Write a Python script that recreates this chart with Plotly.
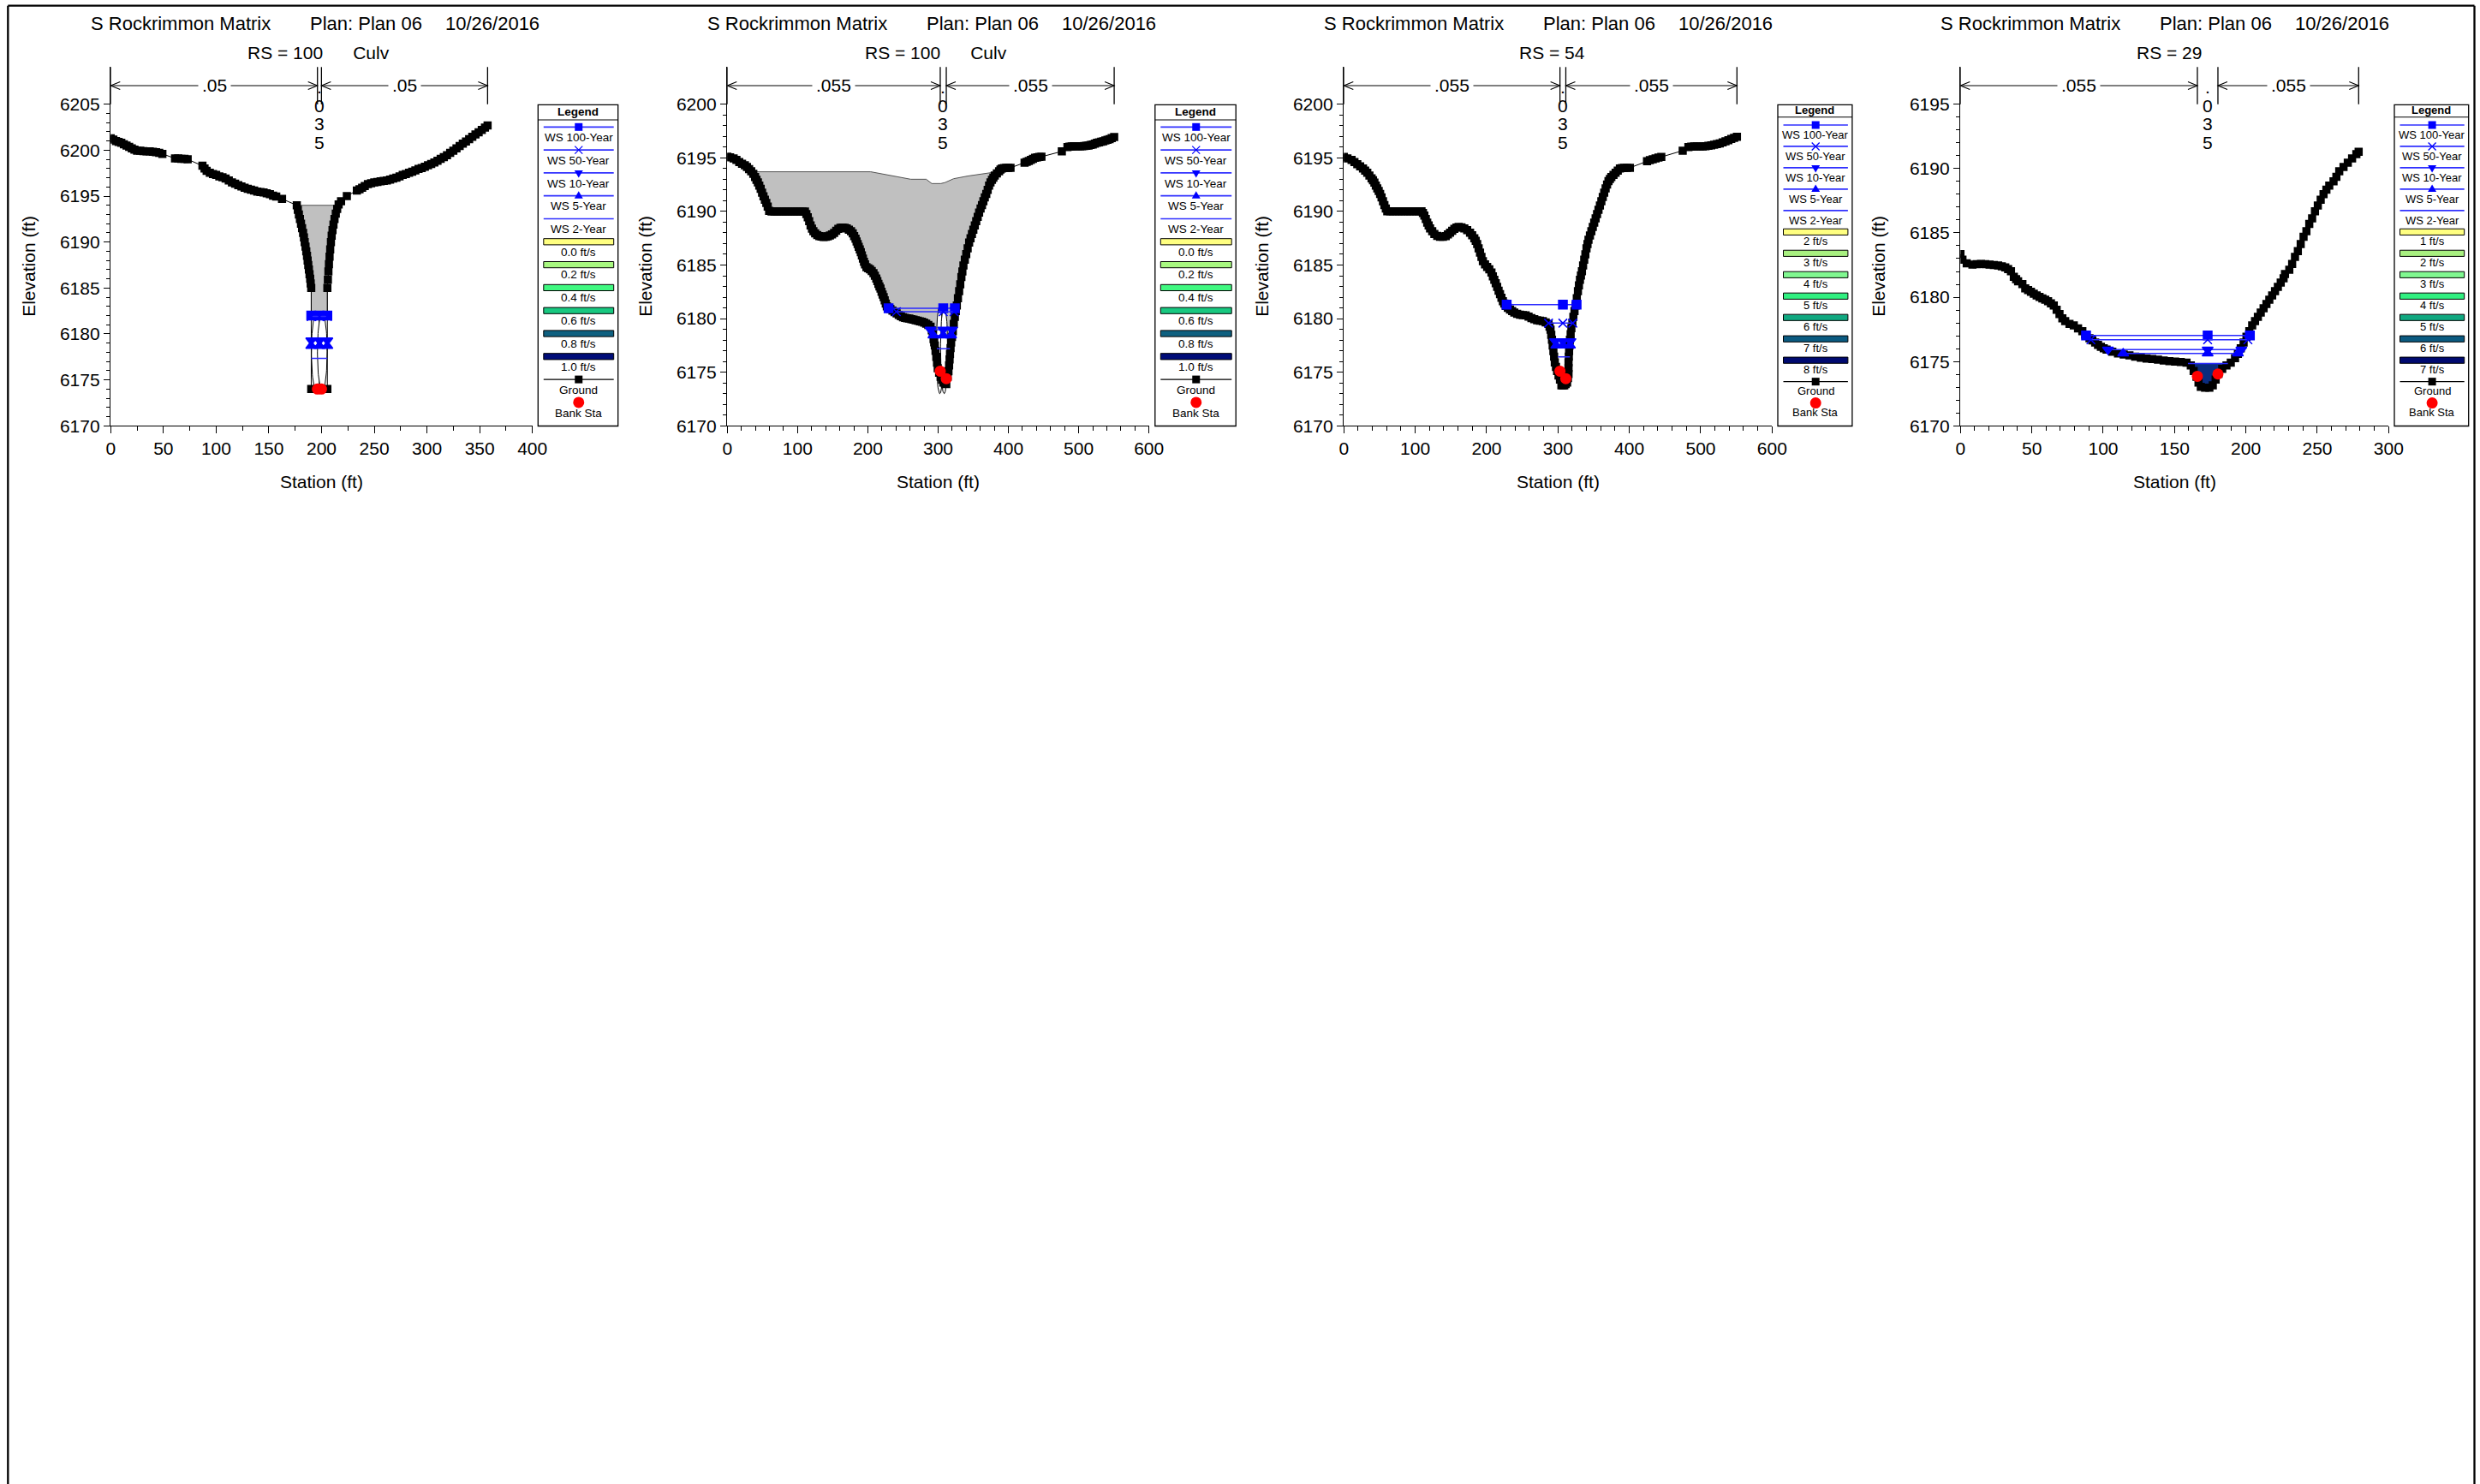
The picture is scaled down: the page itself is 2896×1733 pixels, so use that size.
import numpy as np
import plotly.graph_objects as go

W, H = 2896, 1733
FONT = "Liberation Sans, Arial, Helvetica, sans-serif"

# ======================= DATA =======================
title_main = "S Rockrimmon Matrix"
title_plan = "Plan: Plan 06"
title_date = "10/26/2016"
section_labels = ["RS = 100" + "\u00a0" * 6 + "Culv", "RS = 100" + "\u00a0" * 6 + "Culv", "RS = 54", "RS = 29"]
n_values = [[".05", ".035", ".05"], [".055", ".035", ".055"], [".055", ".035", ".055"], [".055", ".035", ".055"]]

ws_names = ["WS 100-Year", "WS 50-Year", "WS 10-Year", "WS 5-Year", "WS 2-Year"]
vel_labels_p1 = ["0.0 ft/s", "0.2 ft/s", "0.4 ft/s", "0.6 ft/s", "0.8 ft/s", "1.0 ft/s"]
vel_labels_p2 = ["0.0 ft/s", "0.2 ft/s", "0.4 ft/s", "0.6 ft/s", "0.8 ft/s", "1.0 ft/s"]
vel_labels_p3 = ["2 ft/s", "3 ft/s", "4 ft/s", "5 ft/s", "6 ft/s", "7 ft/s", "8 ft/s"]
vel_labels_p4 = ["1 ft/s", "2 ft/s", "3 ft/s", "4 ft/s", "5 ft/s", "6 ft/s", "7 ft/s"]
vel_colors_6 = ["#ffff80", "#a8f880", "#40f880", "#18c880", "#0e6080", "#000c78"]
vel_colors_7 = ["#ffff80", "#a8f080", "#80f890", "#30f080", "#10a880", "#0a5a80", "#000a70"]

# x tick labels per panel
p1_xticks = [0, 50, 100, 150, 200, 250, 300, 350, 400]
p2_xticks = [0, 100, 200, 300, 400, 500, 600]
p3_xticks = [0, 100, 200, 300, 400, 500, 600]
p4_xticks = [0, 50, 100, 150, 200, 250, 300]
# y tick labels per panel
p1_yticks = [6170, 6175, 6180, 6185, 6190, 6195, 6200, 6205]
p2_yticks = [6170, 6175, 6180, 6185, 6190, 6195, 6200]
p3_yticks = [6170, 6175, 6180, 6185, 6190, 6195, 6200]
p4_yticks = [6170, 6175, 6180, 6185, 6190, 6195]

# ---- Ground profiles (station ft, elevation ft) ----
p1_ground = [
    (0, 6201.3), (2.5, 6201.15), (5, 6201.0), (7.5, 6200.9), (10, 6200.8), (12.5, 6200.65), (15, 6200.5),
    (17.5, 6200.35), (20, 6200.2), (22.5, 6200.05), (25, 6199.95), (28, 6199.93), (31, 6199.9), (34, 6199.88),
    (37, 6199.86), (40, 6199.83), (43, 6199.78), (46, 6199.7), (49, 6199.6),
    (61, 6199.1), (64, 6199.1), (67, 6199.05), (70, 6199.05), (73, 6199.0),
    (87, 6198.3), (89, 6198.0), (91, 6197.75), (94, 6197.55), (97, 6197.4), (100, 6197.3), (103, 6197.15),
    (106, 6197.05), (109, 6196.9), (112, 6196.7), (115, 6196.5), (118, 6196.35), (121, 6196.2), (124, 6196.05),
    (127, 6195.9), (130, 6195.8), (133, 6195.7), (136, 6195.6), (139, 6195.5), (142, 6195.45), (145, 6195.4),
    (148, 6195.3), (151, 6195.2), (154, 6195.05), (157, 6194.95),
    (162.5, 6194.7),
    (176.5, 6194.0), (177.5, 6193.5), (178.5, 6193.0), (179.5, 6192.5), (180.5, 6192.0), (181.5, 6191.5),
    (182.5, 6191.0), (183.3, 6190.5), (184, 6190.0), (184.8, 6189.5), (185.5, 6189.0), (186.2, 6188.5),
    (186.8, 6188.0), (187.4, 6187.5), (188, 6187.0), (188.6, 6186.5), (189.2, 6186.0), (189.7, 6185.5),
    (190.2, 6185.0),
    (190.2, 6174.0), (196.1, 6174.0), (199.9, 6174.0), (205.5, 6174.0),
    (205.5, 6185.0), (206.0, 6185.9), (206.5, 6186.8), (207.0, 6187.6), (207.6, 6188.4), (208.2, 6189.2),
    (208.9, 6190.0), (209.6, 6190.7), (210.4, 6191.3), (211.3, 6191.9), (212.3, 6192.5), (213.5, 6193.1),
    (214.8, 6193.6), (216.2, 6194.1), (218.5, 6194.45),
    (224, 6195.0),
    (233.5, 6195.6), (236, 6195.75), (238.5, 6195.9), (241, 6196.1), (244, 6196.3), (247, 6196.4), (250, 6196.5),
    (253, 6196.55), (256, 6196.6), (259, 6196.65), (262, 6196.7), (265, 6196.8), (268, 6196.9), (271, 6197.0),
    (274, 6197.15), (277, 6197.3), (280, 6197.4), (283, 6197.55), (286, 6197.65), (289, 6197.8), (292, 6197.95),
    (295, 6198.05), (298, 6198.2), (301, 6198.35), (304, 6198.5), (307, 6198.65), (310, 6198.85), (313, 6199.05),
    (316, 6199.25), (319, 6199.45), (322, 6199.7), (325, 6199.95), (328, 6200.2), (331, 6200.45), (334, 6200.7),
    (337, 6200.95), (340, 6201.2), (343, 6201.45), (346, 6201.7), (349, 6201.95), (352, 6202.2), (355, 6202.45),
    (357.5, 6202.7),
]

p2_ground = [
    (0, 6195.1), (4, 6195.05), (9, 6194.95), (13, 6194.8), (17, 6194.6), (21, 6194.45), (25, 6194.3), (28, 6194.15),
    (31, 6193.95), (34, 6193.75), (37, 6193.5), (39.5, 6193.2), (41.5, 6192.95), (43.5, 6192.7), (45.5, 6192.4),
    (47.5, 6192.1), (49.5, 6191.75), (51.5, 6191.4), (53.5, 6191.1), (55.5, 6190.8), (57.5, 6190.45), (59.5, 6190.05),
    (63, 6190.0), (67, 6190.0), (71, 6190.0), (75, 6190.0), (79, 6190.0), (83, 6190.0), (87, 6190.0), (91, 6190.0),
    (95, 6190.0), (99, 6190.0), (103, 6190.0), (107, 6190.0), (110.5, 6190.0), (112.5, 6189.75), (114.5, 6189.45),
    (116.5, 6189.1), (118.5, 6188.7), (120.5, 6188.4), (122.5, 6188.15), (125, 6187.95), (128, 6187.8), (131, 6187.7),
    (134, 6187.65), (137, 6187.62), (140, 6187.63), (143, 6187.68), (146, 6187.75), (149, 6187.85), (152, 6188.0),
    (155, 6188.2), (158, 6188.38), (161, 6188.48), (164, 6188.5), (167, 6188.48), (170, 6188.42), (173, 6188.3),
    (176, 6188.15), (178.5, 6187.95), (180.5, 6187.7), (182.5, 6187.45), (184, 6187.2), (185.5, 6186.95),
    (187, 6186.7), (188.5, 6186.45), (190, 6186.2), (191.5, 6185.9), (193, 6185.6), (194.5, 6185.3), (196, 6185.05),
    (198, 6184.8), (200.5, 6184.7), (203, 6184.6), (205.5, 6184.45), (208, 6184.25), (210, 6184.0), (212, 6183.75),
    (213.5, 6183.5), (215, 6183.25), (216.5, 6183.0), (218, 6182.8), (219.5, 6182.5), (221, 6182.25), (222.5, 6182.0),
    (224, 6181.7), (225.5, 6181.4), (227, 6181.15), (229, 6181.0), (232, 6180.9), (235, 6180.75), (238, 6180.6),
    (241, 6180.48), (244, 6180.35), (247, 6180.22), (250, 6180.12), (253, 6180.06), (256, 6180.03), (259, 6180.0),
    (262, 6179.95), (265, 6179.9), (268, 6179.85), (271, 6179.8), (274, 6179.75), (277, 6179.7), (280, 6179.62),
    (283, 6179.52), (286, 6179.4), (289.2, 6179.24), (291, 6178.9), (292.5, 6178.57), (293.5, 6178.1),
    (294.4, 6177.8), (295.3, 6177.5), (296.3, 6177.0), (297.4, 6176.44), (298.4, 6175.9), (299.4, 6175.37),
    (301.4, 6174.95), (303.5, 6174.57), (305.5, 6174.3), (307.5, 6174.04), (309.5, 6173.95), (311.6, 6173.9),
    (313.6, 6174.57), (314.7, 6175.1), (315.6, 6175.64), (316.3, 6176.2), (316.9, 6176.7), (317.7, 6177.25),
    (318.5, 6177.77), (319.7, 6178.3), (320.9, 6178.83), (322.3, 6179.5), (323.8, 6180.16), (325.2, 6180.7),
    (326.6, 6181.23), (328.2, 6181.9), (329.9, 6182.56), (331.5, 6183.2), (333.1, 6183.89), (334.5, 6184.4),
    (336, 6184.96), (338, 6185.5), (340, 6186.02), (342, 6186.55), (344.1, 6187.09), (346.1, 6187.5),
    (348.1, 6187.89), (350.1, 6188.3), (352.2, 6188.69), (354.2, 6189.1), (356.3, 6189.49), (358.3, 6189.9),
    (360.4, 6190.28), (362.4, 6190.6), (364.4, 6190.95), (366.4, 6191.3), (368.5, 6191.62), (370.5, 6192.0),
    (372.5, 6192.41), (374.5, 6192.7), (376.6, 6192.95), (378.6, 6193.15), (380.6, 6193.35), (383.6, 6193.55),
    (386.7, 6193.75), (388.7, 6193.9), (390.8, 6194.01), (393.8, 6194.05), (396.9, 6194.07), (400, 6194.07),
    (403, 6194.07),
    (423, 6194.55), (426, 6194.62), (429, 6194.7), (432, 6194.8), (435, 6194.9), (438, 6195.0), (441, 6195.05),
    (444, 6195.08), (447, 6195.1),
    (476, 6195.6),
    (484, 6196.0), (487, 6196.05), (490, 6196.07), (493, 6196.08), (496, 6196.08), (499, 6196.08), (502, 6196.08),
    (505, 6196.08), (508, 6196.1), (511, 6196.12), (514, 6196.15), (517, 6196.2), (520, 6196.25), (523, 6196.32),
    (526, 6196.4), (529, 6196.45), (532, 6196.5), (535, 6196.55), (538, 6196.62), (541, 6196.68), (544, 6196.75),
    (547, 6196.84), (550.5, 6196.95),
]

p3_ground = [
    (0, 6195.08), (5, 6194.95), (10.8, 6194.81), (14.8, 6194.6), (18.8, 6194.41), (22.8, 6194.2), (26.8, 6194.01),
    (29.8, 6193.8), (32.8, 6193.61), (35.8, 6193.35), (38.8, 6193.08), (40.8, 6192.9), (42.8, 6192.68),
    (44.8, 6192.4), (46.8, 6192.15), (48.8, 6191.9), (50.8, 6191.62), (52.8, 6191.3), (54.8, 6190.95),
    (56.8, 6190.6), (58.8, 6190.28), (60.8, 6190.02), (64.8, 6190.02), (68.8, 6190.02), (72.8, 6190.02),
    (76.8, 6190.02), (80.8, 6190.02), (84.8, 6190.02), (88.8, 6190.02), (92.8, 6190.02), (96.8, 6190.02),
    (100.8, 6190.02), (104.8, 6190.02), (108.8, 6190.02), (110.8, 6189.85), (112.8, 6189.62), (114.8, 6189.3),
    (116.8, 6188.96), (118.8, 6188.7), (120.8, 6188.42), (123.8, 6188.15), (126.8, 6187.89), (130.8, 6187.72),
    (134.8, 6187.63), (138.8, 6187.63), (142.8, 6187.7), (145.8, 6187.85), (148.8, 6188.02), (151.8, 6188.2),
    (154.8, 6188.37), (157.8, 6188.5), (160.8, 6188.56), (164.8, 6188.52), (168.8, 6188.42), (172.8, 6188.25),
    (176.8, 6188.02), (179.8, 6187.78), (182.8, 6187.49), (184.8, 6187.25), (186.8, 6186.96), (188.8, 6186.55),
    (190.8, 6186.16), (192.8, 6185.75), (194.8, 6185.36), (197.8, 6185.05), (200.8, 6184.83), (203.8, 6184.6),
    (206.8, 6184.3), (208.8, 6183.95), (210.8, 6183.63), (212.8, 6183.3), (214.8, 6182.96), (216.8, 6182.6),
    (218.8, 6182.29), (220.8, 6181.95), (222.8, 6181.63), (224.8, 6181.4), (226.8, 6181.18), (229.8, 6181.0),
    (232.8, 6180.84), (235.8, 6180.7), (238.8, 6180.57), (242.8, 6180.45), (246.8, 6180.36), (250.8, 6180.33),
    (254.8, 6180.31), (258.8, 6180.18), (262.8, 6180.04), (266.8, 6179.95), (270.8, 6179.85), (274.8, 6179.8),
    (278.8, 6179.77), (282.8, 6179.65), (286.8, 6179.5), (288.2, 6179.25), (289.6, 6178.97), (290.6, 6178.5),
    (291.6, 6178.04), (292.6, 6177.5), (293.6, 6176.97), (294.6, 6176.45), (295.6, 6175.91), (297.2, 6175.5),
    (298.8, 6175.11), (300.8, 6174.7), (302.8, 6174.31), (304.8, 6173.78), (306.8, 6173.78), (308.8, 6173.78),
    (310.8, 6173.9), (312.8, 6174.04), (314, 6174.45), (314.8, 6174.84), (314.8, 6175.4), (314.8, 6175.91),
    (315.2, 6176.45), (315.6, 6176.97), (316.2, 6177.5), (316.8, 6178.04), (317.8, 6178.55), (318.8, 6179.1),
    (320.2, 6179.6), (321.6, 6180.17), (323.2, 6180.7), (324.8, 6181.23), (326.4, 6181.9), (328, 6182.56),
    (329.4, 6183.1), (330.8, 6183.63), (332.2, 6184.03), (333.6, 6184.43), (335.2, 6184.96), (336.8, 6185.49),
    (338.4, 6186.0), (340, 6186.56), (341.4, 6186.96), (342.8, 6187.36), (344.8, 6187.76), (346.8, 6188.16),
    (348.8, 6188.56), (350.8, 6188.96), (352.8, 6189.35), (354.8, 6189.75), (356.8, 6190.15), (358.8, 6190.55),
    (360.8, 6190.95), (362.8, 6191.35), (364.8, 6191.75), (366.8, 6192.15), (368.8, 6192.5), (370.8, 6192.82),
    (372.8, 6193.02), (374.8, 6193.21), (377.8, 6193.41), (380.8, 6193.61), (383.8, 6193.81), (386.8, 6194.01),
    (389.8, 6194.05), (392.8, 6194.07), (396.8, 6194.07), (400.8, 6194.07),
    (424.8, 6194.68), (428.8, 6194.78), (432.8, 6194.87), (436.8, 6194.95), (440.8, 6195.02), (444.8, 6195.08),
    (474.8, 6195.67),
    (482.8, 6196.01), (486.8, 6196.04), (490.8, 6196.06), (494.8, 6196.06), (498.8, 6196.06), (502.8, 6196.06),
    (506.8, 6196.08), (510.8, 6196.12), (514.8, 6196.17), (518.8, 6196.22), (522.8, 6196.28), (526.8, 6196.35),
    (530.8, 6196.45), (534.8, 6196.55), (538.8, 6196.65), (542.8, 6196.76), (546.8, 6196.86), (550.8, 6196.97),
]

p4_ground = [
    (0, 6183.35), (1.4, 6182.91), (4.4, 6182.64), (8.4, 6182.53), (11.4, 6182.56), (14.4, 6182.58), (17.4, 6182.56),
    (20.4, 6182.53), (23.4, 6182.5), (26.4, 6182.47), (29, 6182.4), (31.4, 6182.31), (33.4, 6182.18), (35.4, 6182.02),
    (37.4, 6181.58), (39, 6181.4), (40.4, 6181.24), (43.4, 6181.02), (45.4, 6180.69), (47.4, 6180.55),
    (49.4, 6180.42), (51.4, 6180.27), (53.4, 6180.13), (55.4, 6180.02), (57.4, 6179.91), (59.4, 6179.8),
    (61.4, 6179.69), (63.4, 6179.52), (65.4, 6179.35), (67.4, 6179.02), (69.4, 6178.69), (71.4, 6178.36),
    (73.4, 6178.14), (76.4, 6177.92), (79.4, 6177.81), (82.4, 6177.58), (85.4, 6177.36), (87.4, 6177.1),
    (90.4, 6176.81), (92.4, 6176.64), (94.4, 6176.47), (96.4, 6176.3), (98.4, 6176.14), (100.4, 6176.03),
    (102.4, 6175.92), (106.4, 6175.76), (110.4, 6175.63), (114.4, 6175.54), (118.4, 6175.48), (122.4, 6175.37),
    (126.4, 6175.3), (130.4, 6175.23), (134.4, 6175.19), (138.4, 6175.14), (142.4, 6175.08), (146.4, 6175.03),
    (150.4, 6174.99), (154.4, 6174.96), (158.4, 6174.92), (161.4, 6174.7), (163.4, 6174.26), (165.4, 6173.81),
    (166.8, 6173.37), (168.4, 6173.04), (171.4, 6172.97), (174.4, 6172.97), (176.8, 6173.15), (178.8, 6173.59),
    (180.8, 6174.04), (183.4, 6174.43), (186.4, 6174.7), (189.4, 6174.92), (192.4, 6175.26), (194.4, 6175.59),
    (196.4, 6176.03), (198.4, 6176.48), (200.4, 6176.92), (202.4, 6177.36), (204.4, 6177.81), (206.4, 6178.14),
    (208.4, 6178.47), (210.4, 6178.81), (212.4, 6179.14), (214.4, 6179.47), (216.4, 6179.8), (218.4, 6180.14),
    (220.4, 6180.47), (222.4, 6180.8), (224.4, 6181.13), (226.4, 6181.47), (227.4, 6181.8), (230.4, 6182.13),
    (232.4, 6182.58), (234.4, 6183.13), (236.4, 6183.58), (238.4, 6184.13), (240.4, 6184.69), (242.4, 6185.13),
    (244.4, 6185.69), (246.4, 6186.13), (248.4, 6186.68), (250.4, 6187.13), (252.4, 6187.57), (254.4, 6188.01),
    (256.4, 6188.35), (258.4, 6188.68), (261.4, 6189.01), (263.4, 6189.35), (265.4, 6189.79), (268.4, 6190.12),
    (271.4, 6190.45), (274.4, 6190.79), (277.4, 6191.12), (279, 6191.3),
]

# ---- Bank stations (station, elevation) ----
p1_banks = [(196.1, 6174.0), (199.9, 6174.0)]
p2_banks = [(303.0, 6175.1), (311.6, 6174.4)]
p3_banks = [(302.8, 6175.1), (311.0, 6174.4)]
p4_banks = [(166.0, 6173.85), (180.4, 6174.03)]

# ---- Water surfaces: (elevation, left station, right station) for 100, 50, 10, 5, 2-year ----
p1_ws = [(6182.0, 190.2, 205.5), (6181.9, 190.2, 205.5), (6179.3, 190.2, 205.5), (6178.7, 190.2, 205.5), (6177.35, 190.2, 205.5)]
p2_ws = [(6180.97, 229.5, 323.8), (6180.65, 240.5, 322.6), (6178.97, 289.2, 319.7), (6178.44, 293.3, 318.5), (6177.19, 298.2, 316.9)]
p3_ws = [(6181.31, 228.1, 326.1), (6179.58, 286.8, 320.8), (6177.9, 296.0, 317.6), (6177.5, 297.6, 316.8), (6176.44, 300.0, 316.8)]
p4_ws = [(6177.03, 88.0, 202.8), (6176.69, 91.4, 201.4), (6175.92, 103.4, 196.8), (6175.63, 114.0, 194.4), (6174.85, 159.4, 187.4)]

# ---- Culvert deck (road) and barrels ----
p1_deck_top = [(176.5, 6194.0), (216.2, 6194.0)]
p1_low_chord = 6182.3
p2_deck_top = [(35.0, 6193.7), (204, 6193.7), (261, 6193.0), (283, 6193.0), (291, 6192.6), (304, 6192.6),
               (310, 6192.7), (322, 6193.05), (342, 6193.3), (384, 6193.7)]
p2_low_chord = 6160.0
p1_barrels = [(190.4, 199.6), (196.1, 205.3)]
p1_barrel_invert, p1_barrel_crown = 6173.8, 6182.3
p2_barrels = [(297.3, 307.5), (303.4, 313.6)]
p2_barrel_invert, p2_barrel_crown = 6173.0, 6181.2

# ======================= LAYOUT GEOMETRY (pixels) =======================
PLOT_TOP, PLOT_BOT, TICK_TOP_PX = 78.3, 497.3, 121.7
panels = [
    dict(x0=129.3, x1=621.7, xmax=400, dtick=50, minor=25, xt=p1_xticks, yt=p1_yticks, ground=p1_ground,
         banks=p1_banks, ws=p1_ws, leg=(628.3, 721.7), vl=vel_labels_p1, vc=vel_colors_6, lfs=13.5),
    dict(x0=849.3, x1=1341.7, xmax=600, dtick=100, minor=20, xt=p2_xticks, yt=p2_yticks, ground=p2_ground,
         banks=p2_banks, ws=p2_ws, leg=(1348.8, 1443.2), vl=vel_labels_p2, vc=vel_colors_6, lfs=13.5),
    dict(x0=1569.3, x1=2069.3, xmax=600, dtick=100, minor=20, xt=p3_xticks, yt=p3_yticks, ground=p3_ground,
         banks=p3_banks, ws=p3_ws, leg=(2076.0, 2162.9), vl=vel_labels_p3, vc=vel_colors_7, lfs=13),
    dict(x0=2289.3, x1=2789.3, xmax=300, dtick=50, minor=10, xt=p4_xticks, yt=p4_yticks, ground=p4_ground,
         banks=p4_banks, ws=p4_ws, leg=(2796.0, 2882.7), vl=vel_labels_p4, vc=vel_colors_7, lfs=13),
]


def PX(x):
    return x / W


def PY(y):
    return 1 - y / H


fig = go.Figure()
shapes, annots = [], []
layout_axes = {}

ws_symbols = ["square", "x-thin-open", "triangle-down", "triangle-up", None]
ws_sizes = [10, 10, 11, 11, 0]


def deck_polygon(gs, ge, top, low):
    tx = [p[0] for p in top]
    ty = [p[1] for p in top]
    l, r = tx[0], tx[-1]
    pts = [(s, max(e, low)) for s, e in zip(gs, ge) if l <= s <= r][::-1]
    return tx + [p[0] for p in pts] + [tx[0]], ty + [p[1] for p in pts] + [ty[0]]


def barrel_outline(left, right, inv, crown):
    t = np.linspace(0, 2 * np.pi, 91)
    cx, cy = (left + right) / 2, (inv + crown) / 2
    return cx + (right - left) / 2 * np.cos(t), cy + (crown - inv) / 2 * np.sin(t)


def text(x, y, s, size=21, xref="paper", yref="paper", xanchor="center", yanchor="middle", angle=0, bg=None, pad=1):
    a = dict(x=x, y=y, xref=xref, yref=yref, text=s, showarrow=False, xanchor=xanchor, yanchor=yanchor,
             font=dict(family=FONT, size=size, color="black"), textangle=angle, borderpad=pad)
    if bg:
        a["bgcolor"] = bg
    annots.append(a)


for i, P in enumerate(panels):
    sfx = "" if i == 0 else str(i + 1)
    xa, ya = "x" + sfx, "y" + sfx
    gs = [p[0] for p in P["ground"]]
    ge = [p[1] for p in P["ground"]]
    ytop_tick = P["yt"][-1]
    ymax = ytop_tick + (ytop_tick - P["yt"][0]) * (TICK_TOP_PX - PLOT_TOP) / (PLOT_BOT - TICK_TOP_PX)

    # axes
    layout_axes["xaxis" + sfx] = dict(
        domain=[PX(P["x0"]), PX(P["x1"])], range=[0, P["xmax"]], anchor=ya, automargin=False,
        tickmode="array", tickvals=P["xt"], ticktext=[str(v) for v in P["xt"]],
        ticks="outside", ticklen=7.5, tickwidth=1, tickcolor="black",
        showline=True, linecolor="black", linewidth=1, showgrid=False, zeroline=False,
        tickfont=dict(family=FONT, size=21, color="black"),
        minor=dict(tickmode="array", tickvals=list(range(0, P["xmax"] + 1, P["minor"])), ticks="outside",
                   ticklen=4.5, tickwidth=1, tickcolor="black", showgrid=False),
        fixedrange=True)
    layout_axes["yaxis" + sfx] = dict(
        domain=[PY(PLOT_BOT), PY(PLOT_TOP)], range=[P["yt"][0], ymax], anchor=xa, automargin=False,
        tickmode="array", tickvals=P["yt"], ticktext=[str(v) for v in P["yt"]],
        ticks="outside", ticklen=7.5, tickwidth=1, tickcolor="black",
        showline=True, linecolor="black", linewidth=1, showgrid=False, zeroline=False,
        tickfont=dict(family=FONT, size=21, color="black"),
        minor=dict(tickmode="array", tickvals=list(range(P["yt"][0], ytop_tick + 1)), ticks="outside",
                   ticklen=4.5, tickwidth=1, tickcolor="black", showgrid=False),
        fixedrange=True)

    # culvert deck and barrels
    if i in (0, 1):
        top = p1_deck_top if i == 0 else p2_deck_top
        low = p1_low_chord if i == 0 else p2_low_chord
        dx, dy = deck_polygon(gs, ge, top, low)
        fig.add_trace(go.Scatter(x=dx, y=dy, xaxis=xa, yaxis=ya, mode="lines", fill="toself",
                                 fillcolor="#c0c0c0", line=dict(color="#555555", width=1), hoverinfo="skip"))
        barrels = p1_barrels if i == 0 else p2_barrels
        inv = p1_barrel_invert if i == 0 else p2_barrel_invert
        crn = p1_barrel_crown if i == 0 else p2_barrel_crown
        for (bl, br) in barrels:
            ex, ey = barrel_outline(bl, br, inv, crn)
            fig.add_trace(go.Scatter(x=ex, y=ey, xaxis=xa, yaxis=ya, mode="lines", fill="toself",
                                     fillcolor="white", line=dict(color="black", width=1), hoverinfo="skip"))

    # velocity colour fill for WS 2-Year at RS 29
    if i == 3:
        e2, l2, r2 = P["ws"][4]
        inner = [(s, e) for s, e in zip(gs, ge) if l2 < s < r2]
        vx = [l2] + [p[0] for p in inner] + [r2, l2]
        vy = [e2] + [p[1] for p in inner] + [e2, e2]
        fig.add_trace(go.Scatter(x=vx, y=vy, xaxis=xa, yaxis=ya, mode="lines", fill="toself",
                                 fillcolor="#0a2c7e", line=dict(color="#0a2c7e", width=0.5), hoverinfo="skip"))

    # ground
    fig.add_trace(go.Scatter(x=gs, y=ge, xaxis=xa, yaxis=ya, mode="lines+markers",
                             line=dict(color="black", width=1),
                             marker=dict(symbol="square", size=9.5, color="black"), hoverinfo="skip"))

    # water surfaces
    bank_mid = (P["banks"][0][0] + P["banks"][1][0]) / 2
    for k, (e, l, r) in enumerate(P["ws"]):
        if ws_symbols[k] is None:
            fig.add_trace(go.Scatter(x=[l, r], y=[e, e], xaxis=xa, yaxis=ya, mode="lines",
                                     line=dict(color="#2a2aff", width=1.5), hoverinfo="skip"))
        else:
            fig.add_trace(go.Scatter(x=[l, bank_mid, r], y=[e, e, e], xaxis=xa, yaxis=ya, mode="lines+markers",
                                     line=dict(color="#2a2aff", width=1.5),
                                     marker=dict(symbol=ws_symbols[k], size=ws_sizes[k], color="blue",
                                                 line=dict(color="blue", width=1.5)), hoverinfo="skip"))
    # bank stations
    fig.add_trace(go.Scatter(x=[b[0] for b in P["banks"]], y=[b[1] for b in P["banks"]], xaxis=xa, yaxis=ya,
                             mode="markers", marker=dict(symbol="circle", size=13, color="red"), hoverinfo="skip"))

    # ---- n-value brackets ----
    s0, s1 = gs[0], gs[-1]
    bl, br = P["banks"][0][0], P["banks"][1][0]
    yb0, yb1, yarr = PY(PLOT_TOP), PY(TICK_TOP_PX), PY(100)
    for s in (s0, bl, br, s1):
        shapes.append(dict(type="line", xref=xa, yref="paper", x0=s, x1=s, y0=yb0, y1=yb1,
                           line=dict(color="black", width=1.3)))
    for (a, b) in ((s0, bl), (br, s1)):
        shapes.append(dict(type="line", xref=xa, yref="paper", x0=a, x1=b, y0=yarr, y1=yarr,
                           line=dict(color="black", width=1.1)))
        shapes.append(dict(type="path", xref=xa, yref="paper", xsizemode="pixel", ysizemode="pixel",
                           xanchor=a, yanchor=yarr, path="M 11 4.5 L 0 0 L 11 -4.5",
                           line=dict(color="black", width=1.1)))
        shapes.append(dict(type="path", xref=xa, yref="paper", xsizemode="pixel", ysizemode="pixel",
                           xanchor=b, yanchor=yarr, path="M -11 4.5 L 0 0 L -11 -4.5",
                           line=dict(color="black", width=1.1)))
    nv = n_values[i]
    text((s0 + bl) / 2, yarr, nv[0], xref=xa, bg="white", pad=4)
    text((br + s1) / 2, yarr, nv[2], xref=xa, bg="white", pad=4)
    for j, ch in enumerate(nv[1]):
        text((bl + br) / 2, PY(101.8 + 21.5 * j), ch, xref=xa)

    # ---- titles ----
    text(PX(P["x0"] - 25), PY(27.7), title_main, size=22, xanchor="left")
    text(PX(P["x0"] + 231), PY(27.7), title_plan, size=22, xanchor="left")
    text(PX(P["x0"] + 388.6), PY(27.7), title_date, size=22, xanchor="left")
    text(PX(P["x0"] + 243.2), PY(61), section_labels[i], size=21)
    text(PX((P["x0"] + P["x1"]) / 2), PY(562.3), "Station (ft)", size=21)
    text(PX(P["x0"] - 96), PY(310.5), "Elevation (ft)", size=21, angle=-90)

    # ---- legend box ----
    lx0, lx1 = P["leg"]
    ltop, lbot = 122.3, 497.5
    nvel = len(P["vl"])
    if nvel == 6:
        hdr_y, sep_y, row0, step, tdy = 130.5, 140.0, 148.3, 26.8, 12.3
    else:
        hdr_y, sep_y, row0, step, tdy = 128.8, 136.7, 146.0, 24.97, 11.3
    lfs = P["lfs"]
    shapes.append(dict(type="rect", xref="paper", yref="paper", x0=PX(lx0), x1=PX(lx1), y0=PY(lbot), y1=PY(ltop),
                       line=dict(color="black", width=1.3), fillcolor="white", layer="above"))
    shapes.append(dict(type="line", xref="paper", yref="paper", x0=PX(lx0), x1=PX(lx1), y0=PY(sep_y), y1=PY(sep_y),
                       line=dict(color="black", width=1.1)))
    text(PX((lx0 + lx1) / 2), PY(hdr_y), "<b>Legend</b>", size=lfs)
    sx0, sx1 = lx0 + 6.5, lx1 - 5
    cx = (sx0 + sx1) / 2
    for k, nm in enumerate(ws_names):
        y = row0 + k * step
        shapes.append(dict(type="line", xref="paper", yref="paper", x0=PX(sx0), x1=PX(sx1), y0=PY(y), y1=PY(y),
                           line=dict(color="#3030ff", width=1.7)))
        if k == 0:
            shapes.append(dict(type="rect", xref="paper", yref="paper", x0=PX(cx - 4.5), x1=PX(cx + 4.5),
                               y0=PY(y + 4.5), y1=PY(y - 4.5), fillcolor="blue", line=dict(width=0)))
        elif k == 1:
            for sgn in (1, -1):
                shapes.append(dict(type="line", xref="paper", yref="paper", x0=PX(cx - 4.5), x1=PX(cx + 4.5),
                                   y0=PY(y - 4.5 * sgn), y1=PY(y + 4.5 * sgn), line=dict(color="blue", width=1.3)))
        elif k == 2:
            shapes.append(dict(type="path", xref="paper", yref="paper",
                               path=f"M {PX(cx - 5)} {PY(y - 3)} L {PX(cx + 5)} {PY(y - 3)} L {PX(cx)} {PY(y + 5.5)} Z",
                               fillcolor="blue", line=dict(width=0)))
        elif k == 3:
            shapes.append(dict(type="path", xref="paper", yref="paper",
                               path=f"M {PX(cx - 5)} {PY(y + 3)} L {PX(cx + 5)} {PY(y + 3)} L {PX(cx)} {PY(y - 5.5)} Z",
                               fillcolor="blue", line=dict(width=0)))
        text(PX(cx), PY(y + tdy), nm, size=lfs)
    for j, (lab, col) in enumerate(zip(P["vl"], P["vc"])):
        y = row0 + (5 + j) * step
        shapes.append(dict(type="rect", xref="paper", yref="paper", x0=PX(sx0), x1=PX(sx1),
                           y0=PY(y + 3.6), y1=PY(y - 3.6), fillcolor=col, line=dict(color="black", width=1)))
        text(PX(cx), PY(y + tdy - 0.5), lab, size=lfs)
    y = row0 + (5 + nvel) * step
    shapes.append(dict(type="line", xref="paper", yref="paper", x0=PX(sx0), x1=PX(sx1), y0=PY(y), y1=PY(y),
                       line=dict(color="black", width=1.3)))
    shapes.append(dict(type="rect", xref="paper", yref="paper", x0=PX(cx - 4.5), x1=PX(cx + 4.5),
                       y0=PY(y + 4.5), y1=PY(y - 4.5), fillcolor="black", line=dict(width=0)))
    text(PX(cx), PY(y + tdy), "Ground", size=lfs)
    y = row0 + (6 + nvel) * step
    shapes.append(dict(type="circle", xref="paper", yref="paper", x0=PX(cx - 6.5), x1=PX(cx + 6.5),
                       y0=PY(y + 6.5), y1=PY(y - 6.5), fillcolor="red", line=dict(width=0)))
    text(PX(cx), PY(y + tdy), "Bank Sta", size=lfs)

# outer frame (left, top, right edges; bottom edge lies beyond the picture)
for (fx0, fy0, fx1, fy1) in ((9.3, 6.7, 9.3, 1733), (9.3, 6.7, 2889.5, 6.7), (2889.5, 6.7, 2889.5, 1733)):
    shapes.append(dict(type="line", xref="paper", yref="paper", x0=PX(fx0), x1=PX(fx1), y0=PY(fy0), y1=PY(fy1),
                       line=dict(color="black", width=2.3)))

fig.update_layout(
    width=W, height=H, autosize=False,
    margin=dict(l=0, r=0, t=0, b=0, pad=0, autoexpand=False),
    paper_bgcolor="white", plot_bgcolor="white",
    showlegend=False, shapes=shapes, annotations=annots,
    font=dict(family=FONT, color="black"),
    **layout_axes,
)

fig.write_html(
    "out.html",
    config={"displayModeBar": False, "staticPlot": True},
    post_script=("document.documentElement.style.overflow='hidden';"
                 "document.body.style.margin='0px';document.body.style.padding='0px';"
                 "document.body.style.overflow='hidden';"),
)
